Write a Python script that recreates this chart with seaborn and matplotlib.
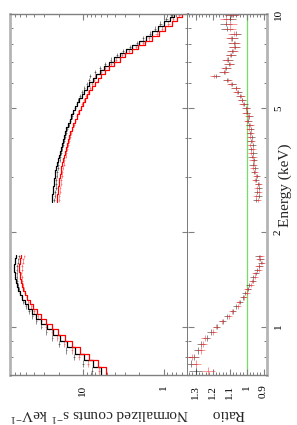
import numpy as np
import pandas as pd
import seaborn as sns
import matplotlib
matplotlib.use("Agg")
import matplotlib.pyplot as plt
from matplotlib.ticker import FixedLocator, FixedFormatter, NullFormatter

# bin centres (keV) below and above the excluded band
energy_lo = [0.72, 0.76, 0.80, 0.84, 0.88, 0.92, 0.96, 1.00, 1.04, 1.08,
             1.12, 1.16, 1.20, 1.24, 1.28, 1.32, 1.36, 1.40, 1.44, 1.48,
             1.52, 1.56, 1.60, 1.64, 1.68]
energy_hi = [2.54, 2.62, 2.70, 2.78, 2.86, 2.94, 3.03, 3.12, 3.21, 3.30,
             3.40, 3.50, 3.60, 3.71, 3.82, 3.93, 4.05, 4.17, 4.30, 4.43,
             4.56, 4.70, 4.84, 4.99, 5.14, 5.30, 5.46, 5.63, 5.80, 5.98,
             6.16, 6.35, 6.54, 6.74, 6.94, 7.15, 7.37, 7.60, 7.84, 8.09,
             8.36, 8.65, 8.96, 9.29, 9.64, 9.92]

# model, normalized counts s^-1 keV^-1
model_black_lo = [6.0, 7.6, 9.8, 12.5, 15.6, 19.3, 23.5, 28.0, 33.0, 38.0,
                  43.0, 48.0, 52.5, 56.5, 60.0, 63.0, 65.5, 67.5, 69.0, 70.0,
                  70.5, 70.5, 70.0, 68.5, 66.5]
model_red_lo = [5.2, 6.6, 8.5, 10.8, 13.5, 16.7, 20.4, 24.3, 28.6, 33.0,
                37.3, 41.6, 45.6, 49.1, 52.1, 54.7, 56.9, 58.6, 59.9, 60.8,
                61.2, 61.2, 60.8, 59.5, 57.8]
model_black_hi = [24.2, 24.0, 23.7, 23.4, 23.1, 22.8, 22.4, 21.9, 21.4, 20.9,
                  20.4, 19.9, 19.4, 18.8, 18.3, 17.7, 17.2, 16.6, 16.0, 15.3,
                  14.6, 13.9, 13.2, 12.5, 11.8, 11.1, 10.4, 9.7, 9.0, 8.3,
                  7.6, 6.9, 6.2, 5.5, 4.8, 4.1, 3.5, 2.95, 2.45, 2.0,
                  1.65, 1.38, 1.16, 0.98, 0.84, 0.74]
model_red_hi = [20.9, 20.7, 20.5, 20.2, 19.9, 19.6, 19.3, 18.9, 18.5, 18.0,
                17.6, 17.1, 16.7, 16.2, 15.7, 15.2, 14.8, 14.3, 13.7, 13.1,
                12.5, 11.9, 11.3, 10.7, 10.1, 9.5, 8.9, 8.3, 7.7, 7.1,
                6.5, 5.9, 5.3, 4.7, 4.1, 3.5, 2.98, 2.5, 2.07, 1.69,
                1.38, 1.14, 0.95, 0.80, 0.68, 0.59]

# data / model
ratio_black_lo = [1.30, 1.325, 1.31, 1.285, 1.27, 1.235, 1.21, 1.175, 1.14, 1.115,
                  1.08, 1.06, 1.04, 1.02, 1.01, 0.99, 0.985, 0.965, 0.96, 0.945,
                  0.94, 0.925, 0.915, 0.92, 0.93]
ratio_red_lo = [1.225, 1.30, 1.32, 1.27, 1.255, 1.245, 1.195, 1.18, 1.145, 1.105,
                1.085, 1.05, 1.045, 1.015, 1.0, 0.995, 0.975, 0.97, 0.95, 0.95,
                0.93, 0.93, 0.91, 0.925, 0.92]
ratio_black_hi = [0.945, 0.93, 0.94, 0.925, 0.935, 0.945, 0.94, 0.955, 0.95, 0.965,
                  0.955, 0.97, 0.96, 0.975, 0.965, 0.975, 0.97, 0.98, 0.975, 0.985,
                  0.99, 0.985, 1.0, 1.005, 1.015, 1.025, 1.04, 1.05, 1.065, 1.085,
                  1.115, 1.18, 1.135, 1.12, 1.105, 1.11, 1.09, 1.085, 1.07, 1.075,
                  1.085, 1.065, 1.115, 1.12, 1.10, 1.09]
ratio_red_hi = [0.935, 0.945, 0.925, 0.94, 0.93, 0.95, 0.945, 0.95, 0.96, 0.955,
                0.965, 0.96, 0.975, 0.965, 0.98, 0.97, 0.98, 0.975, 0.985, 0.98,
                0.995, 0.99, 1.005, 1.0, 1.02, 1.03, 1.035, 1.055, 1.06, 1.09,
                1.11, 1.19, 1.13, 1.125, 1.10, 1.115, 1.095, 1.08, 1.075, 1.07,
                1.09, 1.075, 1.10, 1.095, 1.12, 1.085]
ratio_err_lo = [0.04, 0.032, 0.028, 0.025, 0.023, 0.022, 0.021, 0.02, 0.02, 0.019,
                0.019, 0.018, 0.018, 0.018, 0.018, 0.018, 0.018, 0.018, 0.018, 0.018,
                0.018, 0.019, 0.019, 0.02, 0.02]
ratio_err_hi = [0.018, 0.018, 0.018, 0.018, 0.018, 0.018, 0.018, 0.018, 0.018, 0.019,
                0.019, 0.019, 0.019, 0.019, 0.02, 0.02, 0.02, 0.02, 0.02, 0.021,
                0.021, 0.021, 0.022, 0.022, 0.022, 0.023, 0.023, 0.024, 0.024, 0.025,
                0.025, 0.026, 0.026, 0.027, 0.028, 0.028, 0.029, 0.03, 0.031, 0.032,
                0.033, 0.034, 0.035, 0.036, 0.038, 0.04]

energy_ticks = [1, 2, 5, 10]
energy_minor = [0.7, 0.8, 0.9, 3, 4, 6, 7, 8, 9]
count_ticks = [1, 10]
count_minor = [0.5, 0.6, 0.7, 0.8, 0.9, 2, 3, 4, 5, 6, 7, 8, 9, 20, 30, 40, 50, 60, 70, 80]
ratio_ticks = [0.9, 1.0, 1.1, 1.2, 1.3]
ratio_labels = ["0.9", "1", "1.1", "1.2", "1.3"]


def bin_edges(c):
    c = np.asarray(c)
    mid = (c[1:] + c[:-1]) / 2
    return np.concatenate([[c[0] - (c[1] - c[0]) / 2], mid, [c[-1] + (c[-1] - c[-2]) / 2]])


sns.set_theme(style="ticks")
plt.rcParams["font.family"] = ["Liberation Serif", "DejaVu Serif"]
plt.rcParams["mathtext.fontset"] = "custom"
plt.rcParams["mathtext.rm"] = "Liberation Serif"
plt.rcParams["mathtext.it"] = "Liberation Serif:italic"

fig = plt.figure(figsize=(2.97, 4.25), dpi=100)
W, H = 297.0, 425.0
x0, xs, x1 = 10, 188, 267
ytop, ybot = 14, 375
ax_c = fig.add_axes([x0 / W, 1 - ybot / H, (xs - x0) / W, (ybot - ytop) / H])
ax_r = fig.add_axes([xs / W, 1 - ybot / H, (x1 - xs) / W, (ybot - ytop) / H], sharey=ax_c)

ax_c.set_xscale("log")
ax_c.set_yscale("log")

steps = []
groups = [
    ("black", 1, energy_lo, model_black_lo, ratio_black_lo, ratio_err_lo),
    ("black", 2, energy_hi, model_black_hi, ratio_black_hi, ratio_err_hi),
    ("red", 1, energy_lo, model_red_lo, ratio_red_lo, ratio_err_lo),
    ("red", 2, energy_hi, model_red_hi, ratio_red_hi, ratio_err_hi),
]
for det, seg, en, mod, rat, err in groups:
    ed = bin_edges(en)
    for i, m in enumerate(mod):
        steps.append({"det": det, "seg": seg, "energy": ed[i], "counts": m})
        steps.append({"det": det, "seg": seg, "energy": ed[i + 1], "counts": m})

    en = np.asarray(en)
    mod = np.asarray(mod)
    rat = np.asarray(rat)
    err = np.asarray(err)
    ewid = [en - ed[:-1], ed[1:] - en]
    col = "#222222" if det == "black" else "#ff3030"
    ax_c.errorbar(mod * rat, en, xerr=mod * err, yerr=ewid, fmt="none",
                  ecolor=col, elinewidth=0.6, alpha=0.6, capsize=0)
    ax_r.errorbar(rat, en, xerr=err, yerr=ewid, fmt="none",
                  ecolor=col, elinewidth=0.6, alpha=0.6, capsize=0)

steps = pd.DataFrame(steps)
sns.lineplot(data=steps, x="counts", y="energy", hue="det", units="seg",
             estimator=None, sort=False, palette={"black": "black", "red": "red"},
             linewidth=0.9, legend=False, ax=ax_c)

ax_r.axvline(1.0, color="#77dd66", lw=0.9, zorder=0)

ax_c.set_xlim(80, 0.5)
ax_c.set_ylim(0.7, 10)
ax_r.set_xlim(1.345, 0.88)

ax_c.yaxis.set_major_locator(FixedLocator(energy_ticks))
ax_c.yaxis.set_minor_locator(FixedLocator(energy_minor))
ax_c.yaxis.set_major_formatter(FixedFormatter([str(t) for t in energy_ticks]))
ax_c.yaxis.set_minor_formatter(NullFormatter())

ax_c.xaxis.set_major_locator(FixedLocator(count_ticks))
ax_c.xaxis.set_minor_locator(FixedLocator(count_minor))
ax_c.xaxis.set_major_formatter(FixedFormatter([str(t) for t in count_ticks]))
ax_c.xaxis.set_minor_formatter(NullFormatter())

ax_r.xaxis.set_major_locator(FixedLocator(ratio_ticks))
ax_r.xaxis.set_major_formatter(FixedFormatter(ratio_labels))
ax_r.xaxis.set_minor_locator(FixedLocator(np.round(np.arange(0.88, 1.35, 0.02), 2)))

for ax in (ax_c, ax_r):
    ax.set_xlabel("")
    ax.set_ylabel("")
    ax.tick_params(axis="both", which="both", direction="in", color="#808080",
                   top=True, bottom=True, left=True, right=True,
                   labelsize=8, labelcolor="black")
    ax.tick_params(which="major", length=4, width=0.8)
    ax.tick_params(which="minor", length=2, width=0.7)
    ax.tick_params(axis="x", pad=7, labelrotation=90)
    for s in ("top", "bottom"):
        ax.spines[s].set_color("#808080")
        ax.spines[s].set_linewidth(1.0)

ax_c.tick_params(axis="y", labelleft=False, labelright=False)
ax_r.tick_params(axis="y", labelleft=False, labelright=True, pad=5)
plt.setp(ax_r.get_yticklabels(), rotation=90, va="center")

ax_c.spines["left"].set_color("#b4b4b4")
ax_c.spines["left"].set_linewidth(2.0)
ax_c.spines["right"].set_color("#6e6e6e")
ax_c.spines["right"].set_linewidth(1.3)
ax_r.spines["left"].set_visible(False)
ax_r.spines["right"].set_color("#b4b4b4")
ax_r.spines["right"].set_linewidth(2.0)

fig.text(99 / W, 1 - 414 / H, r"Normalized counts s$^{-1}$ keV$^{-1}$",
         rotation=180, ha="center", va="center", fontsize=11)
fig.text(227.5 / W, 1 - 414 / H, "Ratio", rotation=180, ha="center", va="center", fontsize=11)
fig.text(279 / W, 1 - 185 / H, "Energy (keV)", rotation=90, ha="left", va="center", fontsize=11)

fig.savefig("out.png", dpi=100)
